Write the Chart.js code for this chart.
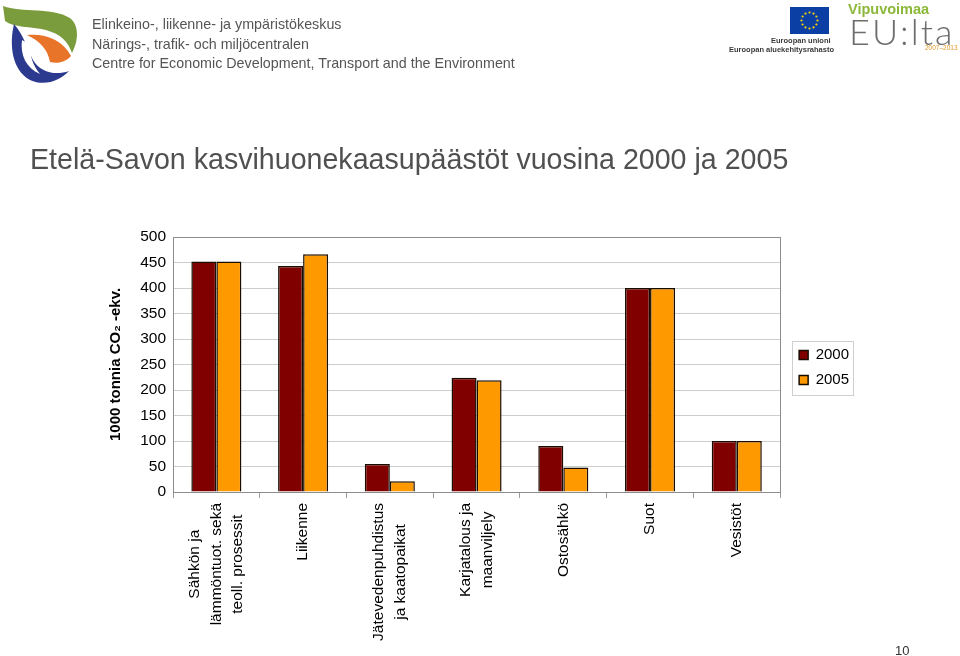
<!DOCTYPE html>
<html>
<head>
<meta charset="utf-8">
<script src="https://cdn.jsdelivr.net/npm/chart.js@4/dist/chart.umd.min.js"></script>
<style>
html,body{margin:0;padding:0;background:#fff;}
#wrap{position:relative;width:960px;height:656px;overflow:hidden;font-family:"Liberation Sans",Arial,sans-serif;}
#c{position:absolute;left:0;top:0;}
.hdr{position:absolute;left:92px;font-size:14.3px;line-height:19.5px;color:#555;white-space:nowrap;}
#title{position:absolute;left:30px;top:145px;font-size:28.6px;line-height:28px;color:#505050;white-space:nowrap;}
#page{position:absolute;left:895px;top:644px;font-size:13px;line-height:13px;color:#333;}
.eu{position:absolute;font-size:7.5px;font-weight:bold;color:#3a3a3a;white-space:nowrap;line-height:9px;}
#vipu{position:absolute;left:848px;top:1px;font-size:14.5px;font-weight:bold;color:#8cb83a;line-height:16px;}
#eulta{position:absolute;left:849px;top:13px;font-family:Lato,"Liberation Sans",sans-serif;font-weight:300;font-size:36px;line-height:36px;color:#6d6d6d;letter-spacing:2px;}
#years{position:absolute;left:925px;top:44px;font-size:6.5px;color:#e39a2a;line-height:8px;}
</style>
</head>
<body>
<div id="wrap">
  <canvas id="c" width="960" height="656"></canvas>
  <svg style="position:absolute;left:0;top:0" width="90" height="90" viewBox="0 0 90 90">
    <path d="M3,6 C22,13 52,7 70,18 C79,25 79,40 72,53 C68,41 60,34 46,30 C30,26 14,28 5,21 Z" fill="#7b9c3c"/>
    <path d="M14,24 C9,45 12,70 30,80 C45,87 61,80 69,71 C55,76 40,72 33,60 C27,49 25,37 14,24 Z" fill="#2b3a8e"/>
    <path d="M27,35 C45,33 63,40 71,56 C66,62 58,64 50,62 C48,50 40,41 27,35 Z" fill="#e8742a"/>
    <path d="M22,40 C20,55 26,68 40,74 C33,66 29,54 31,45 Z" fill="#ffffff"/>
  </svg>
  <div class="hdr" style="top:15px">Elinkeino-, liikenne- ja ympäristökeskus</div>
  <div class="hdr" style="top:34.5px">Närings-, trafik- och miljöcentralen</div>
  <div class="hdr" style="top:54px">Centre for Economic Development, Transport and the Environment</div>
  <svg style="position:absolute;left:790px;top:7px" width="39" height="27" viewBox="0 0 39 27">
    <rect x="0" y="0" width="39" height="27" fill="#0b3fa3"/>
    <g fill="#ffd400">
      <circle cx="19.5" cy="5.5" r="1.1"/><circle cx="23.5" cy="6.6" r="1.1"/><circle cx="26.4" cy="9.5" r="1.1"/>
      <circle cx="27.5" cy="13.5" r="1.1"/><circle cx="26.4" cy="17.5" r="1.1"/><circle cx="23.5" cy="20.4" r="1.1"/>
      <circle cx="19.5" cy="21.5" r="1.1"/><circle cx="15.5" cy="20.4" r="1.1"/><circle cx="12.6" cy="17.5" r="1.1"/>
      <circle cx="11.5" cy="13.5" r="1.1"/><circle cx="12.6" cy="9.5" r="1.1"/><circle cx="15.5" cy="6.6" r="1.1"/>
    </g>
  </svg>
  <div class="eu" style="left:771px;top:36px;width:58px;text-align:right">Euroopan unioni</div>
  <div class="eu" style="left:729px;top:45px;width:100px;text-align:right">Euroopan aluekehitysrahasto</div>
  <div id="vipu">Vipuvoimaa</div>
  <div id="eulta">EU:lta</div>
  <div id="years">2007–2013</div>
  <div id="title">Etelä-Savon kasvihuonekaasupäästöt vuosina 2000 ja 2005</div>
  <div id="page">10</div>
</div>
<script>
// ---- data ----
const categories = [
  ["Sähkön ja", "lämmöntuot. sekä", "teoll. prosessit"],
  ["Liikenne"],
  ["Jätevedenpuhdistus", "ja kaatopaikat"],
  ["Karjatalous ja", "maanviljely"],
  ["Ostosähkö"],
  ["Suot"],
  ["Vesistöt"]
];
const seriesNames = ["2000", "2005"];
const values2000 = [452, 443, 55, 224, 90, 400, 100];
const values2005 = [452, 466, 21, 219, 48, 400, 100];
const yMin = 0, yMax = 500, yStep = 50;
const yTitle = "1000 tonnia CO₂ -ekv.";

const FONT = '"Liberation Sans", Arial, sans-serif';
Chart.defaults.font.family = FONT;
Chart.defaults.color = '#000';

const xLabelPlugin = {
  id: 'xLabels',
  afterDraw(chart) {
    const ctx = chart.ctx, xs = chart.scales.x;
    const lh = 21.5;
    ctx.save();
    ctx.font = '15.5px ' + FONT;
    ctx.fillStyle = '#000';
    categories.forEach((lines, i) => {
      const cx = xs.getPixelForValue(i);
      const W = Math.max(...lines.map(l => ctx.measureText(l).width));
      ctx.save();
      ctx.translate(cx, xs.top + 11 + W / 2);
      ctx.rotate(-Math.PI / 2);
      ctx.textAlign = 'center';
      ctx.textBaseline = 'middle';
      lines.forEach((l, j) => ctx.fillText(l, 0, (j - (lines.length - 1) / 2) * lh));
      ctx.restore();
    });
    ctx.restore();
  }
};

const framePlugin = {
  id: 'frame',
  afterLayout(chart) {
    const lg = chart.legend, ca = chart.chartArea;
    if (!lg) return;
    lg.left += 9; lg.right += 9;
    lg.top = ca.top; lg.bottom = ca.bottom + 6; lg.height = lg.bottom - lg.top;
  },
  afterDraw(chart) {
    const ctx = chart.ctx, ca = chart.chartArea;
    ctx.save();
    ctx.strokeStyle = '#8c8c8c';
    ctx.lineWidth = 1;
    ctx.strokeRect(Math.round(ca.left) + 0.5, Math.round(ca.top) + 0.5, Math.round(ca.right - ca.left), Math.round(ca.bottom - ca.top));
    const hb = chart.legend.legendHitBoxes;
    if (hb && hb.length) {
      const l = Math.min(...hb.map(h => h.left)) - 7;
      const r = Math.max(...hb.map(h => h.left + h.width)) + 4;
      const t = Math.min(...hb.map(h => h.top)) - 7;
      const b = Math.max(...hb.map(h => h.top + h.height)) + 7;
      ctx.strokeStyle = '#cfcfcf';
      ctx.strokeRect(Math.round(l) + 0.5, Math.round(t) + 0.5, Math.round(r - l), Math.round(b - t));
    }
    ctx.restore();
  }
};

new Chart(document.getElementById('c'), {
  type: 'bar',
  data: {
    labels: categories,
    datasets: [
      { label: seriesNames[0], data: values2000, backgroundColor: '#800000', borderColor: '#1a0d00', borderWidth: 1.5 },
      { label: seriesNames[1], data: values2005, backgroundColor: '#ff9900', borderColor: '#1a0d00', borderWidth: 1.5 }
    ]
  },
  options: {
    responsive: false,
    animation: false,
    devicePixelRatio: 1,
    layout: { padding: { top: 237, left: 103, right: 110, bottom: 0 } },
    datasets: { bar: { categoryPercentage: 0.577, barPercentage: 1.0 } },
    plugins: {
      title: { display: false },
      tooltip: { enabled: false },
      legend: {
        position: 'right',
        labels: { boxWidth: 9, boxHeight: 9, padding: 10, color: '#000', font: { size: 15 } }
      }
    },
    scales: {
      x: {
        ticks: { display: false },
        grid: { display: true, drawOnChartArea: false, drawTicks: true, tickLength: 6, color: '#9a9a9a', offset: true },
        border: { display: true, color: '#8c8c8c' },
        afterFit(s) { s.height = 164; }
      },
      y: {
        min: yMin, max: yMax,
        ticks: { stepSize: yStep, padding: 7, color: '#000', font: { size: 15.5 } },
        grid: { color: '#cdcdcd', drawTicks: false, lineWidth: 1 },
        border: { display: true, color: '#8c8c8c' },
        title: { display: true, text: yTitle, color: '#000', font: { size: 15, weight: 'bold' }, padding: { top: 4, bottom: 4 } },
        afterFit(s) { s.width = 70; }
      }
    }
  },
  plugins: [xLabelPlugin, framePlugin]
});
</script>
</body>
</html>
